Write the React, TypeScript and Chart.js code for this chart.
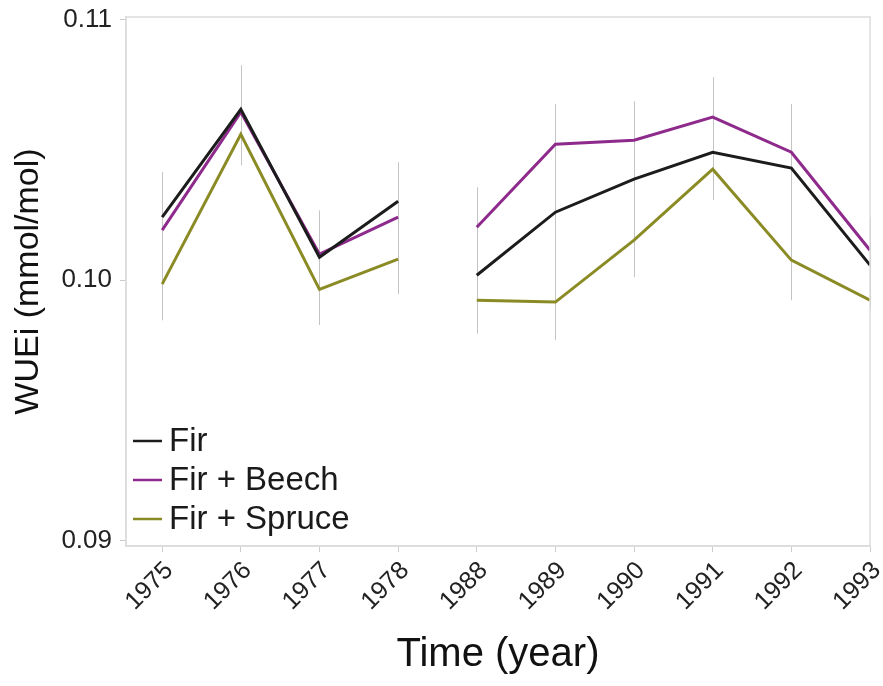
import React, { useEffect, useRef } from "react";
import { Chart, registerables } from "chart.js";
Chart.register(...registerables);

const years = ["1975", "1976", "1977", "1978", "1988", "1989", "1990", "1991", "1992", "1993"];
const fir = [0.10242, 0.10656, 0.10088, 0.10303, 0.10019, 0.10261, 0.10388, 0.10491, 0.1043, 0.10058];
const firBeech = [0.10192, 0.10645, 0.101, 0.10242, 0.10203, 0.10522, 0.10537, 0.10626, 0.10491, 0.10115];
const firSpruce = [0.09985, 0.1056, 0.09965, 0.10081, 0.09923, 0.09916, 0.10154, 0.10426, 0.10077, 0.09923];
const errHigh = [0.10415, 0.10825, 0.10268, 0.10453, 0.10357, 0.10676, 0.10687, 0.10779, 0.10676, 0.1024];
const errLow = [0.09846, 0.10441, 0.09828, 0.09946, 0.09795, 0.0977, 0.10012, 0.10307, 0.09923, 0.0989];
const yTicks = [0.09, 0.1, 0.11];
const seriesNames = ["Fir", "Fir + Beech", "Fir + Spruce"];
const seriesColors = ["#1c1c1c", "#8e2a8c", "#8b8b26"];
const breakAfterIndex = 3;

const FONT = "'Liberation Sans', Arial, sans-serif";

export default function App() {
  const ref = useRef<HTMLCanvasElement | null>(null);
  useEffect(() => {
    document.body.style.margin = "0";
    const canvas = ref.current;
    if (!canvas) return;
    const seriesData = [fir, firBeech, firSpruce];

    const customPlugin = {
      id: "frameErrLegend",
      beforeDatasetsDraw(chart: any) {
        const { ctx, scales } = chart;
        const xs = scales.x;
        const ys = scales.y;
        ctx.save();
        ctx.strokeStyle = "#c4c4c4";
        ctx.lineWidth = 1;
        for (let i = 0; i < years.length; i++) {
          const x = Math.round(xs.getPixelForValue(i)) + 0.5;
          ctx.beginPath();
          ctx.moveTo(x, ys.getPixelForValue(errHigh[i]));
          ctx.lineTo(x, ys.getPixelForValue(errLow[i]));
          ctx.stroke();
        }
        ctx.restore();
      },
      afterDraw(chart: any) {
        const { ctx, chartArea } = chart;
        ctx.save();
        ctx.strokeStyle = "#dcdcdc";
        ctx.lineWidth = 1.5;
        ctx.strokeRect(chartArea.left, chartArea.top, chartArea.right - chartArea.left, chartArea.bottom - chartArea.top);
        ctx.font = `33px ${FONT}`;
        ctx.textBaseline = "middle";
        ctx.textAlign = "left";
        chart.data.datasets.forEach((ds: any, i: number) => {
          const y = chartArea.bottom - 105 + i * 39;
          ctx.strokeStyle = ds.borderColor;
          ctx.lineWidth = 2.5;
          ctx.beginPath();
          ctx.moveTo(chartArea.left + 7, y);
          ctx.lineTo(chartArea.left + 36, y);
          ctx.stroke();
          ctx.fillStyle = "#1a1a1a";
          ctx.fillText(ds.label, chartArea.left + 43, y + 1);
        });
        ctx.restore();
      },
    };

    const chart = new Chart(canvas, {
      type: "line",
      data: {
        datasets: seriesNames.map((name, s) => ({
          label: name,
          data: years.map((_, i) => ({ x: i, y: seriesData[s][i] })),
          borderColor: seriesColors[s],
          backgroundColor: seriesColors[s],
          borderWidth: 3,
          pointRadius: 0,
          tension: 0,
          fill: false,
          segment: {
            borderColor: (ctx: any) => (ctx.p0DataIndex === breakAfterIndex ? "rgba(0,0,0,0)" : seriesColors[s]),
          },
        })),
      },
      options: {
        animation: false,
        responsive: false,
        maintainAspectRatio: false,
        layout: { padding: { top: 17, right: 13, left: 0, bottom: 0 } },
        plugins: { legend: { display: false }, tooltip: { enabled: false } },
        scales: {
          x: {
            type: "linear",
            min: -0.46,
            max: 9,
            afterBuildTicks: (s: any) => {
              s.ticks = years.map((_, i) => ({ value: i }));
            },
            afterFit: (s: any) => {
              s.height = 140;
              s.paddingRight = 0;
              s.paddingLeft = 0;
            },
            ticks: {
              autoSkip: false,
              maxRotation: 45,
              minRotation: 45,
              padding: 4,
              labelOffset: 7,
              color: "#222",
              font: { family: FONT, size: 25 },
              callback: (v: any) => years[v as number],
            },
            grid: { drawOnChartArea: false, drawTicks: true, tickLength: 6, color: "#cccccc" },
            border: { color: "#dcdcdc", width: 1.5 },
            title: {
              display: true,
              text: "Time (year)",
              color: "#111",
              font: { family: FONT, size: 40 },
              padding: { top: 0, bottom: 7 },
            },
          },
          y: {
            type: "linear",
            min: 0.0898,
            max: 0.1101,
            afterBuildTicks: (s: any) => {
              s.ticks = yTicks.map((v) => ({ value: v }));
            },
            afterFit: (s: any) => {
              s.width = 126;
              s.paddingTop = 0;
              s.paddingBottom = 0;
            },
            ticks: {
              padding: 8,
              color: "#222",
              font: { family: FONT, size: 26 },
              callback: (v: any) => (v as number).toFixed(2),
            },
            grid: { drawOnChartArea: false, drawTicks: true, tickLength: 6, color: "#cccccc" },
            border: { color: "#dcdcdc", width: 1.5 },
            title: {
              display: true,
              text: "WUEi (mmol/mol)",
              color: "#111",
              font: { family: FONT, size: 34 },
              padding: { top: 8, bottom: 0 },
            },
          },
        },
      },
      plugins: [customPlugin],
    } as any);
    return () => chart.destroy();
  }, []);
  return (
    <div style={{ width: 883, height: 686 }}>
      <canvas ref={ref} width={883} height={686} style={{ display: "block", width: 883, height: 686 }} />
    </div>
  );
}
